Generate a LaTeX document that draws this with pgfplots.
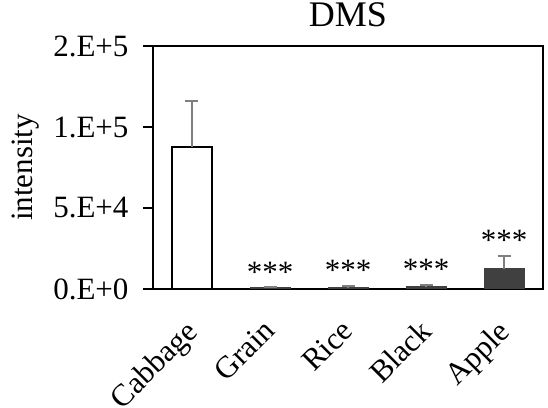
\documentclass[border=0pt]{standalone}
\usepackage{pgfplots}
\pgfplotsset{compat=1.18}
\usepackage{fontspec}
\setmainfont{Liberation Serif}
\definecolor{darkbar}{HTML}{404040}
\definecolor{errgray}{HTML}{7F7F7F}
\newcommand{\tickf}{\fontsize{31}{35}\selectfont}
\newcommand{\titf}{\fontsize{36}{40}\selectfont}
\begin{document}
\begin{tikzpicture}
\begin{axis}[
  scale only axis, width=390pt, height=243pt,
  xmin=-0.5, xmax=4.5, ymin=0, ymax=150000,
  xtick={0,1,2,3,4}, xticklabels={Cabbage,Grain,Rice,Black,Apple},
  xticklabel style={xshift=-8pt, yshift=-16pt, rotate=45, anchor=north east, font=\tickf, inner sep=2pt},
  ytick={0,50000,100000,150000}, yticklabels={0.E+0,5.E+4,1.E+5,2.E+5},
  scaled y ticks=false,
  yticklabel style={font=\tickf, xshift=-11pt},
  tick align=outside, ytick pos=left, xtick pos=bottom,
  major x tick style={draw=none},
  major tick length=10pt,
  every tick/.style={black, line width=1.5pt},
  axis line style={line width=1.5pt},
  ylabel={intensity}, ylabel style={font=\tickf, yshift=7pt},
  title={DMS}, title style={font=\titf, at={(0.5,1)}, anchor=base, yshift=13pt, inner sep=0pt},
  clip=false,
]
\addplot[ybar, bar shift=0pt, bar width=40pt, fill=white, draw=black, line width=1.5pt,
  error bars/.cd, y dir=plus, y explicit,
  error bar style={errgray, line width=1.5pt},
  error mark options={rotate=90, mark size=6.5pt, errgray, line width=1.5pt}]
  coordinates {(0,87500) +- (0,28600)};
\addplot[ybar, bar shift=0pt, bar width=40pt, fill=darkbar, draw=darkbar, line width=1pt,
  error bars/.cd, y dir=plus, y explicit,
  error bar style={errgray, line width=1.5pt},
  error mark options={rotate=90, mark size=6.5pt, errgray, line width=1.5pt}]
  coordinates {(1,800) +- (0,300) (2,900) +- (0,1000) (3,1300) +- (0,1200) (4,12400) +- (0,8100)};
\addplot[draw=none, mark=none, nodes near coords, point meta=explicit symbolic,
  every node near coord/.style={anchor=base, yshift=5pt, font=\tickf, inner sep=0pt}]
  coordinates {(1,1100)[***] (2,1900)[***] (3,2500)[***] (4,20500)[***]};
\end{axis}
\pgfresetboundingbox
\path ([shift={(-153pt,-119pt)}]current axis.south west) rectangle ([shift={(5pt,46pt)}]current axis.north east);
\end{tikzpicture}
\end{document}
